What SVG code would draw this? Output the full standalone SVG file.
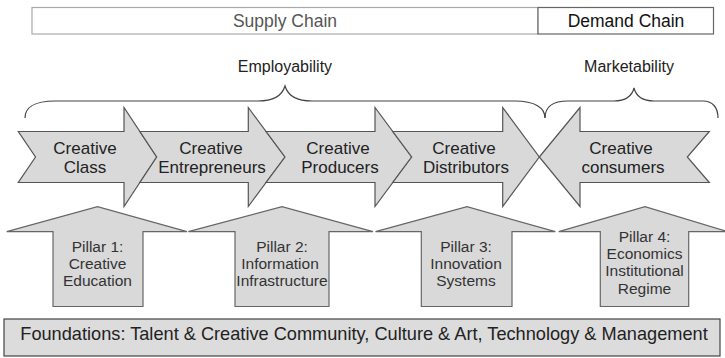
<svg xmlns="http://www.w3.org/2000/svg" width="725" height="358" viewBox="0 0 725 358">
<style>
text{font-family:"Liberation Sans",Arial,sans-serif;text-anchor:middle}
.arrow{fill:#d9d9d9;stroke:#555;stroke-width:1.2;stroke-linejoin:miter}
.pillar{fill:#d9d9d9;stroke:#666;stroke-width:1.2}
.lbl{font-size:17px;fill:#222}
.plbl{font-size:15.5px;fill:#333}
.brace{fill:none;stroke:#444;stroke-width:1.2}
</style>
<rect width="725" height="358" fill="#fff"/>
<g id="supply-chain">
<rect x="32" y="7.5" width="506" height="26.5" fill="#fff" stroke="#aaa" stroke-width="1.2"/>
<text x="285" y="26.5" style="font-size:17.5px;fill:#555">Supply Chain</text>
</g>
<g id="demand-chain">
<rect x="538" y="7.5" width="175.5" height="26.5" fill="#fff" stroke="#666" stroke-width="1.2"/>
<text x="626" y="26.5" style="font-size:17.5px;fill:#111">Demand Chain</text>
</g>
<g id="employability">
<path class="brace" d="M25,118 C25,108 34,101 55,101 L258,101 C274,101 282,96 285,86 C288,96 296,101 312,101 L515,101 C535,101 545,108 545,118"/>
<text x="285" y="71.7" style="font-size:16px;fill:#222">Employability</text>
</g>
<g id="marketability">
<path class="brace" d="M545,118 C545,108 551,101 568,101 L614,101 C627,101 632,96 634,88 C636,96 641,101 654,101 L703,101 C713,101 718,108 718,118"/>
<text x="629" y="71.7" style="font-size:16px;fill:#222">Marketability</text>
</g>
<g id="creative-class">
<path class="arrow" d="M18.3,131.5 L124,131.5 L124,107.5 L156.7,157 L124,206.5 L124,182.5 L18.3,182.5 L35.5,157 Z"/>
<text class="lbl" x="85" y="153.5">Creative</text>
<text class="lbl" x="85" y="172.5">Class</text>
</g>
<g id="creative-entrepreneurs">
<path class="arrow" d="M139.9,131.5 L248.3,131.5 L248.3,107.5 L285,157 L248.3,206.5 L248.3,182.5 L139.9,182.5 L156.7,157 Z"/>
<text class="lbl" x="211" y="153.5">Creative</text>
<text class="lbl" x="212" y="172.5">Entrepreneurs</text>
</g>
<g id="creative-producers">
<path class="arrow" d="M266.1,131.5 L375,131.5 L375,107.5 L411.7,157 L375,206.5 L375,182.5 L266.1,182.5 L285,157 Z"/>
<text class="lbl" x="338" y="153.5">Creative</text>
<text class="lbl" x="340" y="172.5">Producers</text>
</g>
<g id="creative-distributors">
<path class="arrow" d="M392.8,131.5 L502.7,131.5 L502.7,107.5 L539.3,157 L502.7,206.5 L502.7,182.5 L392.8,182.5 L411.7,157 Z"/>
<text class="lbl" x="464" y="153.5">Creative</text>
<text class="lbl" x="466" y="172.5">Distributors</text>
</g>
<g id="creative-consumers">
<path class="arrow" d="M539.3,157 L580,107.5 L580,131.5 L709.3,131.5 L687.3,157 L709.3,182.5 L580,182.5 L580,206.5 Z"/>
<text class="lbl" x="621" y="153.5">Creative</text>
<text class="lbl" x="623" y="172.5">consumers</text>
</g>
<g id="pillar-1">
<path class="pillar" d="M6.7,231.7 L97.5,206.7 L187,231.7 L143,231.7 L143,306.5 L53,306.5 L53,231.7 Z"/>
<text class="plbl" x="97.5" y="251.7">Pillar 1:</text>
<text class="plbl" x="97.5" y="269">Creative</text>
<text class="plbl" x="97.5" y="286.3">Education</text>
</g>
<g id="pillar-2">
<path class="pillar" d="M188.3,231.7 L282,206.7 L373,231.7 L329,231.7 L329,306.5 L235,306.5 L235,231.7 Z"/>
<text class="plbl" x="282" y="251.7">Pillar 2:</text>
<text class="plbl" x="280" y="269">Information</text>
<text class="plbl" x="282" y="286.3">Infrastructure</text>
</g>
<g id="pillar-3">
<path class="pillar" d="M375.5,231.7 L467,206.7 L555.3,231.7 L512,231.7 L512,306.5 L421.3,306.5 L421.3,231.7 Z"/>
<text class="plbl" x="466" y="251.7">Pillar 3:</text>
<text class="plbl" x="466" y="269">Innovation</text>
<text class="plbl" x="466" y="286.3">Systems</text>
</g>
<g id="pillar-4">
<path class="pillar" d="M558.7,231.7 L645,206.7 L728,231.7 L688.7,231.7 L688.7,306.5 L600.3,306.5 L600.3,231.7 Z"/>
<text class="plbl" x="644.5" y="241.7">Pillar 4:</text>
<text class="plbl" x="644.5" y="259">Economics</text>
<text class="plbl" x="644.5" y="276.3">Institutional</text>
<text class="plbl" x="644.5" y="293.5">Regime</text>
</g>
<g id="foundations">
<rect x="4" y="319" width="716" height="37" fill="#dcdcdc" stroke="#444" stroke-width="1.2"/>
<text x="364" y="339.5" style="font-size:18.2px;fill:#222">Foundations: Talent &amp; Creative Community, Culture &amp; Art, Technology &amp; Management</text>
</g>
</svg>
